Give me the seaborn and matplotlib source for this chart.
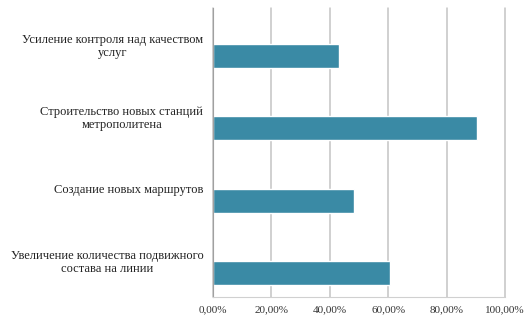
import pandas as pd
import matplotlib.pyplot as plt
import seaborn as sns
from matplotlib.ticker import FuncFormatter

# Survey categories (top to bottom) and shares
categories = [
    'Усиление контроля над качеством\nуслуг',
    'Строительство новых станций\nметрополитена',
    'Создание новых маршрутов',
    'Увеличение количества подвижного\nсостава на линии',
]
values = [0.43, 0.905, 0.483, 0.606]
empty_values = [0, 0, 0, 0]   # empty companion series, as in the Excel chart

df = pd.DataFrame({
    'Category': categories * 2,
    'Value': empty_values + values,
    'Series': ['blank'] * 4 + ['share'] * 4,
})

sns.set_style('white')
plt.rcParams['font.family'] = ['Liberation Serif', 'DejaVu Serif']

fig = plt.figure(figsize=(5.29, 3.2), dpi=100)
ax = fig.add_axes([0.4026, 0.072, 0.552, 0.903])

sns.barplot(data=df, y='Category', x='Value', hue='Series', hue_order=['blank', 'share'],
            palette={'blank': '#3a8aa5', 'share': '#3a8aa5'}, width=0.667,
            orient='h', legend=False, ax=ax, saturation=1)

ax.set_xlim(0, 1.0)
ax.set_xticks([0, 0.2, 0.4, 0.6, 0.8, 1.0])
ax.xaxis.set_major_formatter(FuncFormatter(lambda v, p: f'{v*100:.2f}%'.replace('.', ',')))
ax.grid(axis='x', color='#c4c4c4', linewidth=1.1)
for gl in ax.get_xgridlines():
    gl.set_clip_on(False)
ax.set_axisbelow(True)
ax.set_xlabel('')
ax.set_ylabel('')
for s in ['top', 'right']:
    ax.spines[s].set_visible(False)
ax.spines['left'].set_color('#a0a0a0')
ax.spines['bottom'].set_color('#d0d0d0')
ax.tick_params(axis='x', length=0, labelsize=8, colors='#333333', pad=6)
ax.tick_params(axis='y', length=0, labelsize=9, colors='#222222', pad=7)
for lbl in ax.get_yticklabels():
    lbl.set_multialignment('center')
    lbl.set_linespacing(1.1)

plt.savefig('out.png', dpi=100)
